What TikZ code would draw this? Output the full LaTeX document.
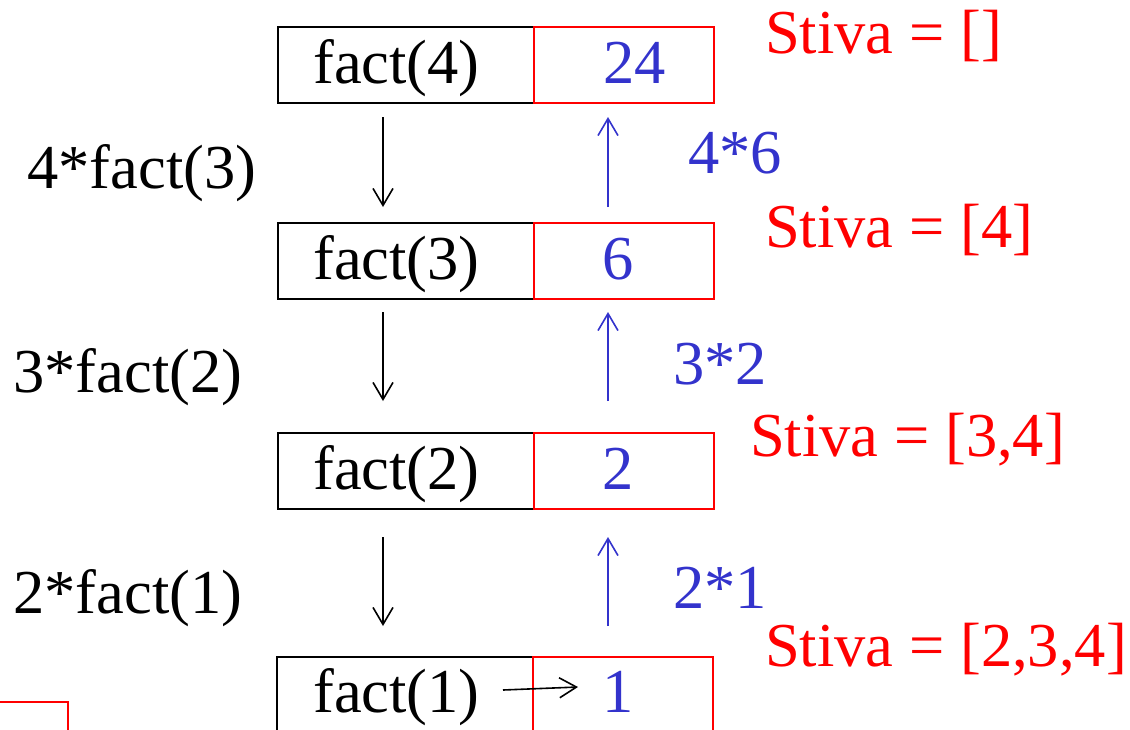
\documentclass[tikz,border=0pt]{standalone}
\usepackage{fontspec}
\setmainfont{Liberation Serif}
\usetikzlibrary{arrows.meta}
\definecolor{myblue}{RGB}{51,51,204}
\definecolor{myred}{RGB}{255,0,0}
\tikzset{
  blackbox/.style={draw=black, line width=2pt, anchor=north west, minimum width=256pt, minimum height=76pt, inner sep=0pt},
  redbox/.style={draw=myred, line width=2pt, anchor=north west, minimum width=180pt, minimum height=76pt, inner sep=0pt},
  txt/.style={font=\fontsize{62.5pt}{70pt}\selectfont, anchor=base west, inner sep=0pt},
  arr/.style={line width=1.6pt, -{Straight Barb[length=17pt,width=20pt,line width=1.6pt]}},
}
\begin{document}
\begin{tikzpicture}[x=1pt,y=-1pt]
\useasboundingbox (0,0) rectangle (1130,729);
% boxes
\node[blackbox] (b1) at (277,26) {};
\node[redbox] (r1) at (533,26) {};
\node[blackbox] (b2) at (277,222) {};
\node[redbox] (r2) at (533,222) {};
\node[blackbox] (b3) at (277,432) {};
\node[redbox] (r3) at (533,432) {};
\draw[black, line width=2pt] (277,740) -- (277,657) -- (533,657);
\draw[myred, line width=2pt] (533,740) -- (533,657) -- (713,657) -- (713,740);
% bottom-left red corner
\draw[myred, line width=2pt] (-2,702) -- (68,702) -- (68,740);
% box texts
\node[txt] (f4) at (313,83) {fact(4)};
\node[txt, text=myblue] (v4) at (603,83) {24};
\node[txt] (f3) at (313,279) {fact(3)};
\node[txt, text=myblue] (v3) at (602,279) {6};
\node[txt] (f2) at (313,489) {fact(2)};
\node[txt, text=myblue] (v2) at (602,489) {2};
\node[txt] (f1) at (313,712) {fact(1)};
\node[txt, text=myblue] (v1) at (602,712) {1};
% left labels
\node[txt] (l1) at (27,188) {4*fact(3)};
\node[txt] (l2) at (13,392) {3*fact(2)};
\node[txt] (l3) at (13,613) {2*fact(1)};
% blue labels
\node[txt, text=myblue] (m1) at (688,173) {4*6};
\node[txt, text=myblue] (m2) at (673,384) {3*2};
\node[txt, text=myblue] (m3) at (673,608) {2*1};
% stack labels
\node[txt, text=myred] (s1) at (765,53) {Stiva = []};
\node[txt, text=myred] (s2) at (765,247) {Stiva = [4]};
\node[txt, text=myred] (s3) at (750,456) {Stiva = [3,4]};
\node[txt, text=myred] (s4) at (765,666) {Stiva = [2,3,4]};
% arrow coordinates
\coordinate (d1a) at (383,117); \coordinate (d1b) at (383,207);
\coordinate (u1a) at (608,207); \coordinate (u1b) at (608,117);
\coordinate (d2a) at (383,312); \coordinate (d2b) at (383,401);
\coordinate (u2a) at (608,401); \coordinate (u2b) at (608,312);
\coordinate (d3a) at (383,537); \coordinate (d3b) at (383,626);
\coordinate (u3a) at (608,626); \coordinate (u3b) at (608,537);
\coordinate (fa) at (503,690); \coordinate (fb) at (578,687);
\draw[arr, black] (d1a) -- (d1b);
\draw[arr, myblue] (u1a) -- (u1b);
\draw[arr, black] (d2a) -- (d2b);
\draw[arr, myblue] (u2a) -- (u2b);
\draw[arr, black] (d3a) -- (d3b);
\draw[arr, myblue] (u3a) -- (u3b);
\draw[arr, black] (fa) -- (fb);
\end{tikzpicture}
\end{document}
